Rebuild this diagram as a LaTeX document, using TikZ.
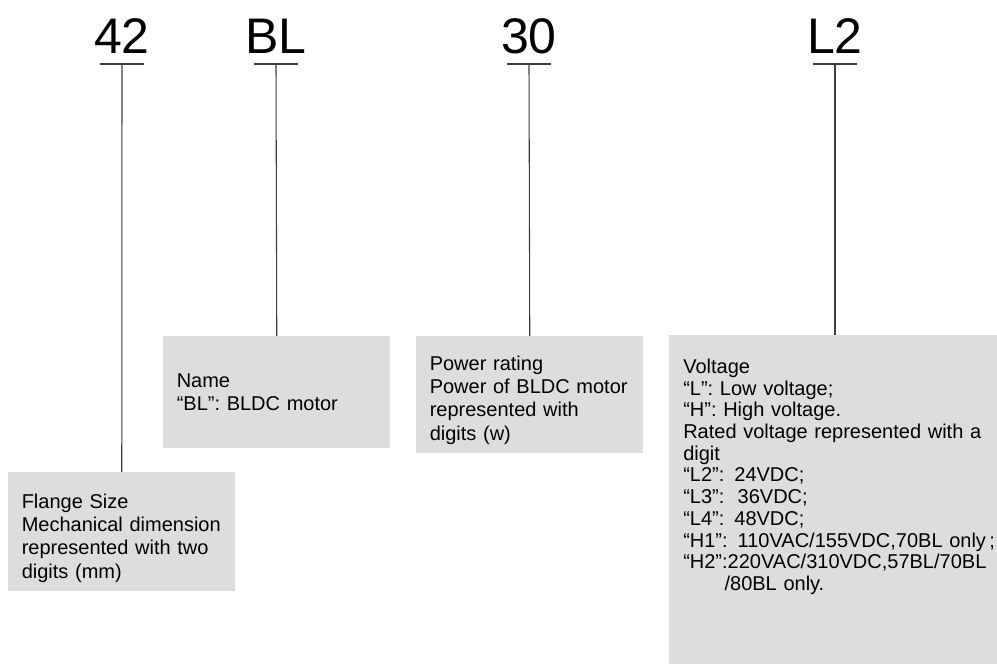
\documentclass[tikz,border=0pt]{standalone}
\usepackage{fontspec}
\setmainfont{Liberation Sans}
\definecolor{boxgray}{RGB}{220,221,220}
\definecolor{leadgray}{RGB}{60,60,60}
\begin{document}
\begin{tikzpicture}[x=0.75pt,y=-0.75pt,
    code/.style={anchor=base,inner sep=0pt,font=\fontsize{37.5}{40}\selectfont},
    rule/.style={draw=leadgray,line width=0.8pt},
    lead/.style={draw=leadgray,line width=0.8pt},
    descbox/.style={fill=boxgray,anchor=north west,align=left,inner xsep=10pt,
      text width=150pt,minimum width=170.25pt,font=\fontsize{15}{17.5}\selectfont}]
      \useasboundingbox (0,0) rectangle (997,664);%

      \node[code] (n42) at (122,53) {42};%
      \node[code] (nBL) at (276,53) {BL};%
      \node[code] (n30) at (529,53) {30};%
      \node[code] (nL2) at (835,53) {L2};%

      \coordinate (u42) at (122,64);%
      \coordinate (uBL) at (276,64);%
      \coordinate (u30) at (529,64);%
      \coordinate (uL2) at (835,64);%

      \node[descbox,minimum height=89.25pt,text height=20pt] (d42) at (8,472)
        {Flange Size\\Mechanical dimension\\represented with two\\digits (mm)};%
      \node[descbox,minimum height=84pt] (dBL) at (163,336)
        {Name\\“BL”: BLDC motor};%
      \node[descbox,minimum height=87.75pt,text height=18.5pt] (d30) at (416,336)
        {Power rating\\Power of BLDC motor\\represented with\\digits (w)};%
      \node[descbox,text width=236pt,inner xsep=10.5pt,inner ysep=0pt,
        text height=28.5pt,text depth=218.5pt,font=\fontsize{15}{16.3}\selectfont] (dL2) at (669,335)
        {Voltage\\“L”: Low voltage;\\“H”: High voltage.\\Rated voltage represented with a\\digit\\
         “L2”: 24VDC;\\“L3”:\ \ 36VDC;\\“L4”: 48VDC;\\“H1”: 110VAC/155VDC,70BL only\,;\\
         “H2”:220VAC/310VDC,57BL/70BL\\\hspace*{31pt}/80BL only.};%

      \draw[rule] ([xshift=-16.5pt]u42) -- ([xshift=16.5pt]u42);%
      \draw[rule] ([xshift=-16.5pt]uBL) -- ([xshift=16.5pt]uBL);%
      \draw[rule] ([xshift=-16.5pt]u30) -- ([xshift=16.5pt]u30);%
      \draw[rule] ([xshift=-16.5pt]uL2) -- ([xshift=16.5pt]uL2);%

      \draw[lead] (u42) -- (d42.north);%
      \draw[lead] (uBL) -- (dBL.north);%
      \draw[lead] (u30) -- (d30.north);%
      \draw[lead] (uL2) -- (uL2 |- dL2.north);%
    \end{tikzpicture}
\end{document}
